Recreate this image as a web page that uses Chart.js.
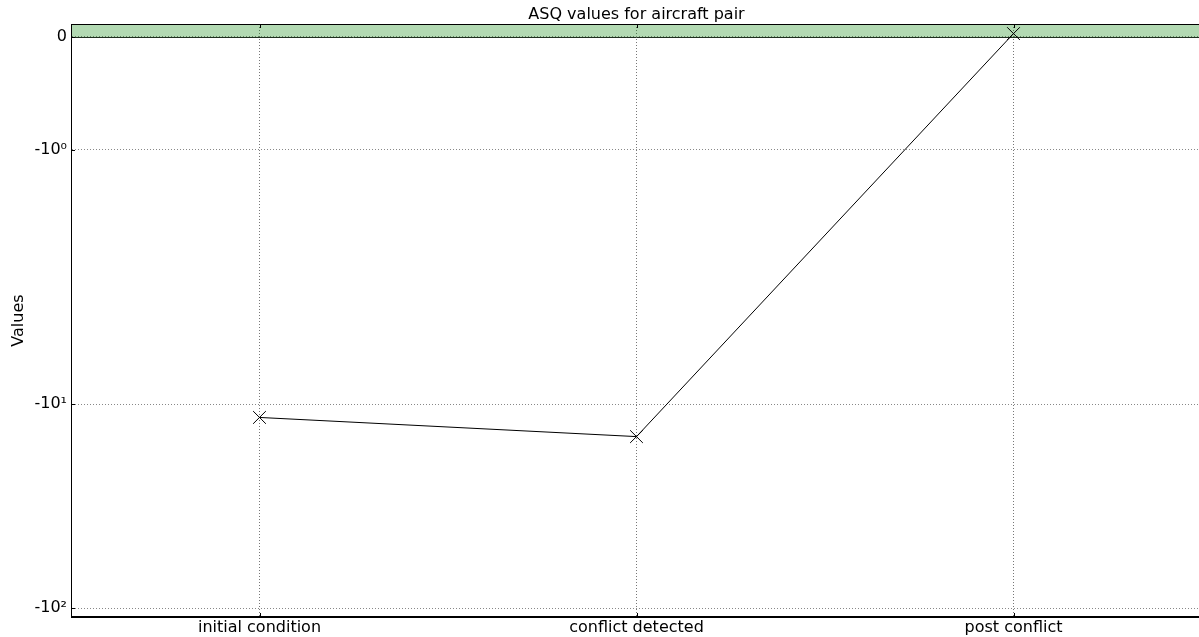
<!DOCTYPE html>
<html>
<head>
<meta charset="utf-8">
<script src="https://cdn.jsdelivr.net/npm/chart.js@4/dist/chart.umd.min.js"></script>
<style>
    html, body { margin: 0; padding: 0; background: #fff; overflow: hidden; }
    #asqChart { display: block; }
</style>
</head>
<body>
<canvas id="asqChart" width="1203" height="637"></canvas>
<script>
// Chart data
const stages = ['initial condition', 'conflict detected', 'post conflict'];
const asqValues = [-11.6, -14.4, 0.03];
const tickValues = [0, -1, -10, -100];
const tickLabels = ['0', '-10\u2070', '-10\u00b9', '-10\u00b2'];
const axisMin = -110.3;
const axisMax = 0.115;

// Relative length of the axis pieces: linear part 0..-1, then each decade
const segments = [112.7, 254.6, 204];

function symTransform(v)
{
    var a = -v;
    if (a <= 1) {
        return a * segments[0];
    }
    var d = Math.log10(a);
    if (d <= 1) {
        return segments[0] + d * segments[1];
    }
    return segments[0] + segments[1] + (d - 1) * segments[2];
}

function symInverse(t)
{
    if (t <= segments[0]) {
        return -t / segments[0];
    }
    if (t <= segments[0] + segments[1]) {
        return -Math.pow(10, (t - segments[0]) / segments[1]);
    }
    return -Math.pow(10, 1 + (t - segments[0] - segments[1]) / segments[2]);
}

// Negative symlog-like scale
class NegSymlogScale extends Chart.LinearScale {
    buildTicks() {
        return tickValues.map(v => ({ value: v }));
    }
    getPixelForValue(value) {
        var tMin = symTransform(this.min);
        var tMax = symTransform(this.max);
        return this.getPixelForDecimal((symTransform(value) - tMin) / (tMax - tMin));
    }
    getValueForPixel(pixel) {
        var tMin = symTransform(this.min);
        var tMax = symTransform(this.max);
        return symInverse(tMin + this.getDecimalForPixel(pixel) * (tMax - tMin));
    }
}
NegSymlogScale.id = 'negSymlog';
NegSymlogScale.defaults = {};
Chart.register(NegSymlogScale);

// Green band above zero, plot frame and inward tick marks
const framePlugin = {
    id: 'framePlugin',
    beforeDatasetsDraw(chart) {
        const ctx = chart.ctx;
        const area = chart.chartArea;
        const y0 = chart.scales.y.getPixelForValue(0);
        ctx.save();
        ctx.fillStyle = 'rgba(0, 128, 0, 0.3)';
        ctx.fillRect(area.left, area.top, area.right - area.left, y0 - area.top);
        ctx.strokeStyle = '#1e2e1e';
        ctx.lineWidth = 1;
        ctx.beginPath();
        ctx.moveTo(area.left, Math.round(y0) + 0.5);
        ctx.lineTo(area.right, Math.round(y0) + 0.5);
        ctx.stroke();
        ctx.restore();
    },
    afterDraw(chart) {
        const ctx = chart.ctx;
        const area = chart.chartArea;
        const xs = chart.scales.x;
        const ys = chart.scales.y;
        ctx.save();
        ctx.strokeStyle = '#000';
        ctx.lineWidth = 1;
        ctx.strokeRect(area.left + 0.5, area.top + 0.5, area.right - area.left - 1, area.bottom - area.top - 1);
        ctx.beginPath();
        stages.forEach((s, i) => {
            var px = Math.round(xs.getPixelForValue(i)) + 0.5;
            ctx.moveTo(px, area.bottom);
            ctx.lineTo(px, area.bottom - 4);
            ctx.moveTo(px, area.top);
            ctx.lineTo(px, area.top + 4);
        });
        tickValues.forEach(v => {
            var py = Math.round(ys.getPixelForValue(v)) + 0.5;
            ctx.moveTo(area.left, py);
            ctx.lineTo(area.left + 4, py);
        });
        ctx.stroke();
        ctx.restore();
    }
};

Chart.defaults.font.family = "'DejaVu Sans', sans-serif";
Chart.defaults.font.size = 16;
Chart.defaults.color = '#000';

var ctx = document.getElementById('asqChart').getContext('2d');

const asqChart = new Chart(ctx, {
    type: 'line',
    data: {
        labels: stages,
        datasets: [
            {
                label: 'ASQ',
                data: asqValues,
                borderColor: '#000',
                backgroundColor: '#000',
                borderWidth: 1,
                tension: 0,
                pointStyle: 'crossRot',
                pointRadius: 9,
                pointBorderWidth: 1,
                pointBorderColor: '#000'
            }
        ]
    },
    options: {
        responsive: false,
        animation: false,
        layout: { autoPadding: false, padding: { left: 0, right: 1, top: 0, bottom: 0 } },
        plugins: {
            legend: { display: false },
            tooltip: { enabled: false },
            title: {
                display: true,
                text: 'ASQ values for aircraft pair',
                fullSize: false,
                color: '#000',
                font: { size: 16, weight: 'normal', lineHeight: 19 / 16 },
                padding: { top: 5, bottom: 0 }
            }
        },
        scales: {
            x: {
                type: 'category',
                offset: true,
                grid: {
                    color: '#777',
                    lineWidth: 1,
                    drawTicks: false
                },
                border: { display: true, color: '#000', width: 1, dash: [1, 2] },
                ticks: { padding: 1, color: '#000', font: { size: 16 } },
                afterFit: function(scale) { scale.height = 20; }
            },
            y: {
                type: 'negSymlog',
                min: axisMin,
                max: axisMax,
                grid: {
                    color: '#888',
                    lineWidth: 1,
                    drawTicks: false
                },
                border: { display: true, color: '#000', width: 1, dash: [1, 2] },
                ticks: {
                    padding: 4,
                    color: '#000',
                    font: { size: 16 },
                    autoSkip: false,
                    callback: function(value, index) { return tickLabels[index]; }
                },
                title: {
                    display: true,
                    text: 'Values',
                    color: '#000',
                    font: { size: 16 },
                    padding: { top: 9, bottom: 0 }
                },
                afterFit: function(scale) { scale.width = 71; }
            }
        }
    },
    plugins: [framePlugin]
});
</script>
</body>
</html>
